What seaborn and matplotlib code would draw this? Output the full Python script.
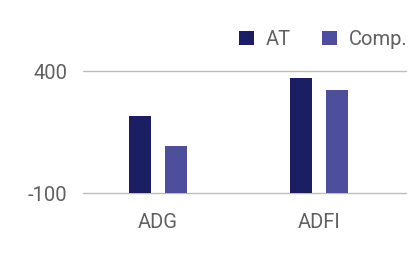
import matplotlib
matplotlib.use("Agg")
import matplotlib.pyplot as plt
import seaborn as sns
import pandas as pd
from matplotlib.patches import Patch

categories = ["ADG", "ADFI"]
series_names = ["AT", "Comp."]
at_values = [217, 371]
comp_values = [93, 325]
y_ticks = [-100, 400]
colors = ["#1b1e62", "#4d4f9d"]

df = pd.DataFrame({
    "category": categories * 2,
    "series": [series_names[0]] * 2 + [series_names[1]] * 2,
    "value": at_values + comp_values,
})

sns.set_theme(style="white")
plt.rcParams["font.family"] = ["Roboto", "DejaVu Sans"]
text_color = "#606060"

fig = plt.figure(figsize=(4.17, 2.65), dpi=100)
ax = fig.add_axes([83 / 417, 1 - 193.3 / 265, (406 - 83) / 417, 122 / 265])

sns.barplot(data=df, x="category", y="value", hue="series", order=categories,
            hue_order=series_names, palette=colors, width=0.446, gap=0.39,
            saturation=1, ax=ax, legend=False, linewidth=0)

base = y_ticks[0]
for p in ax.patches:
    h = p.get_height()
    p.set_y(base)
    p.set_height(h - base)

ax.set_ylim(y_ticks[0], y_ticks[1])
ax.set_xlim(-0.464, 1.536)
ax.set_yticks(y_ticks)
ax.set_yticklabels([str(v) for v in y_ticks])
ax.yaxis.grid(True, color="#bdbdbd", linewidth=1)
for gl in ax.get_ygridlines():
    gl.set_clip_on(False)
ax.set_axisbelow(True)
for s in ax.spines.values():
    s.set_visible(False)
ax.tick_params(axis="both", length=0, labelsize=14.5, labelcolor=text_color)
ax.tick_params(axis="y", pad=11)
ax.tick_params(axis="x", pad=14)
ax.set_xlabel("")
ax.set_ylabel("")

handles = [Patch(facecolor=c, edgecolor="none") for c in colors]
leg = fig.legend(handles, series_names, loc="upper right", ncol=2,
                 bbox_to_anchor=(416 / 417, 1 - 22 / 265), frameon=False,
                 fontsize=14.5, handlelength=0.75, handleheight=0.75,
                 handletextpad=0.6, columnspacing=1.55, borderaxespad=0)
for t in leg.get_texts():
    t.set_color(text_color)

fig.savefig("out.png", dpi=100)
